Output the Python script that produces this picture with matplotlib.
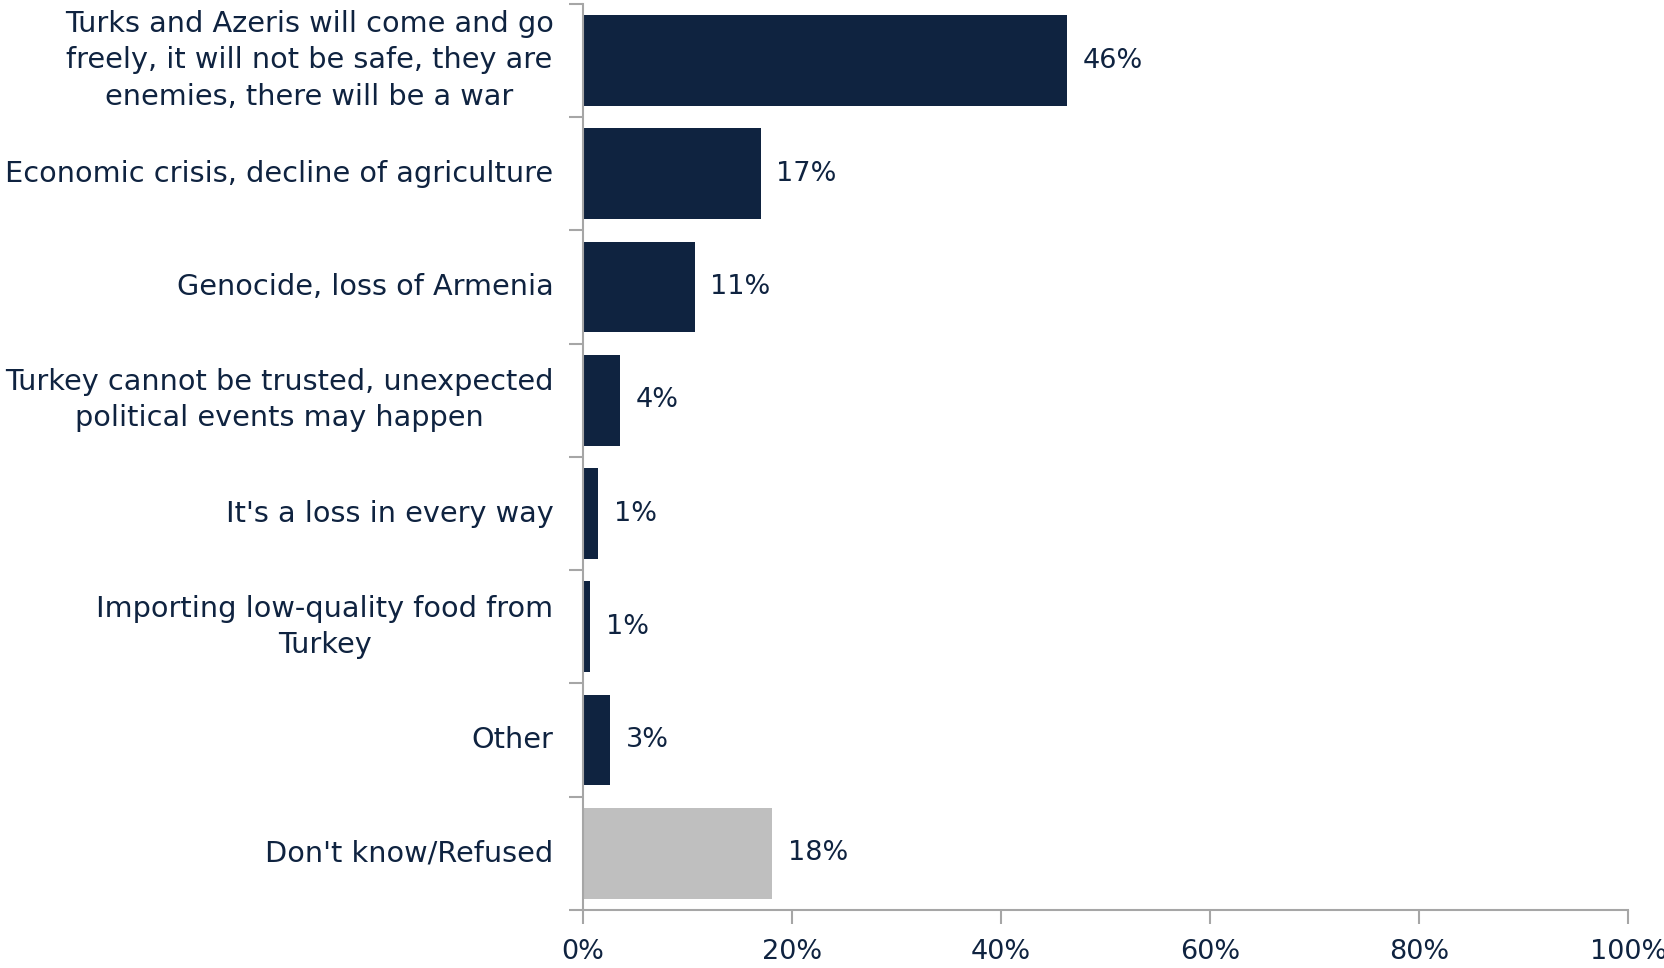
import matplotlib
matplotlib.use("Agg")
import matplotlib.pyplot as plt
from matplotlib.ticker import FixedLocator, PercentFormatter

categories = [
    "Turks and Azeris will come and go\nfreely, it will not be safe, they are\nenemies, there will be a war",
    "Economic crisis, decline of agriculture",
    "Genocide, loss of Armenia",
    "Turkey cannot be trusted, unexpected\npolitical events may happen",
    "It's a loss in every way",
    "Importing low-quality food from\nTurkey",
    "Other",
    "Don't know/Refused",
]
values = [46.3, 17.0, 10.7, 3.6, 1.5, 0.7, 2.6, 18.1]
value_labels = ["46%", "17%", "11%", "4%", "1%", "1%", "3%", "18%"]
x_ticks = [0, 20, 40, 60, 80, 100]

NAVY = "#0F2340"
GRAY = "#BFBFBF"
AXIS_GRAY = "#A6A6A6"
colors = [NAVY] * 7 + [GRAY]

plt.rcParams['font.family'] = ['DejaVu Sans']

fig = plt.figure(figsize=(16.65, 9.68), dpi=100)
ax = fig.add_axes([0.350, 0.060, 0.628, 0.936])

n = len(categories)
ypos = list(range(n))
ax.barh(ypos, values, height=0.8, color=colors)
ax.set_ylim(n - 0.5, -0.5)
ax.set_xlim(0, 100)

for y, v, lab in zip(ypos, values, value_labels):
    ax.text(v + 1.5, y, lab, va="center", ha="left", fontsize=19.5, color=NAVY)

ax.set_yticks(ypos)
ax.set_yticklabels(categories, fontsize=20.7, color=NAVY, multialignment="center",
                   linespacing=1.38, va="center")
ax.tick_params(axis="y", which="major", length=0, pad=21)
ax.yaxis.set_minor_locator(FixedLocator([i - 0.5 for i in range(n + 1)]))
ax.tick_params(axis="y", which="minor", length=10, color=AXIS_GRAY, width=1.5)

ax.xaxis.set_major_locator(FixedLocator(x_ticks))
ax.xaxis.set_major_formatter(PercentFormatter(decimals=0))
ax.tick_params(axis="x", length=10, color=AXIS_GRAY, width=1.5, labelsize=19.5,
               labelcolor=NAVY, pad=11)

for s in ["top", "right"]:
    ax.spines[s].set_visible(False)
for s in ["left", "bottom"]:
    ax.spines[s].set_color(AXIS_GRAY)
    ax.spines[s].set_linewidth(1.5)

fig.savefig("out.png", dpi=100)
